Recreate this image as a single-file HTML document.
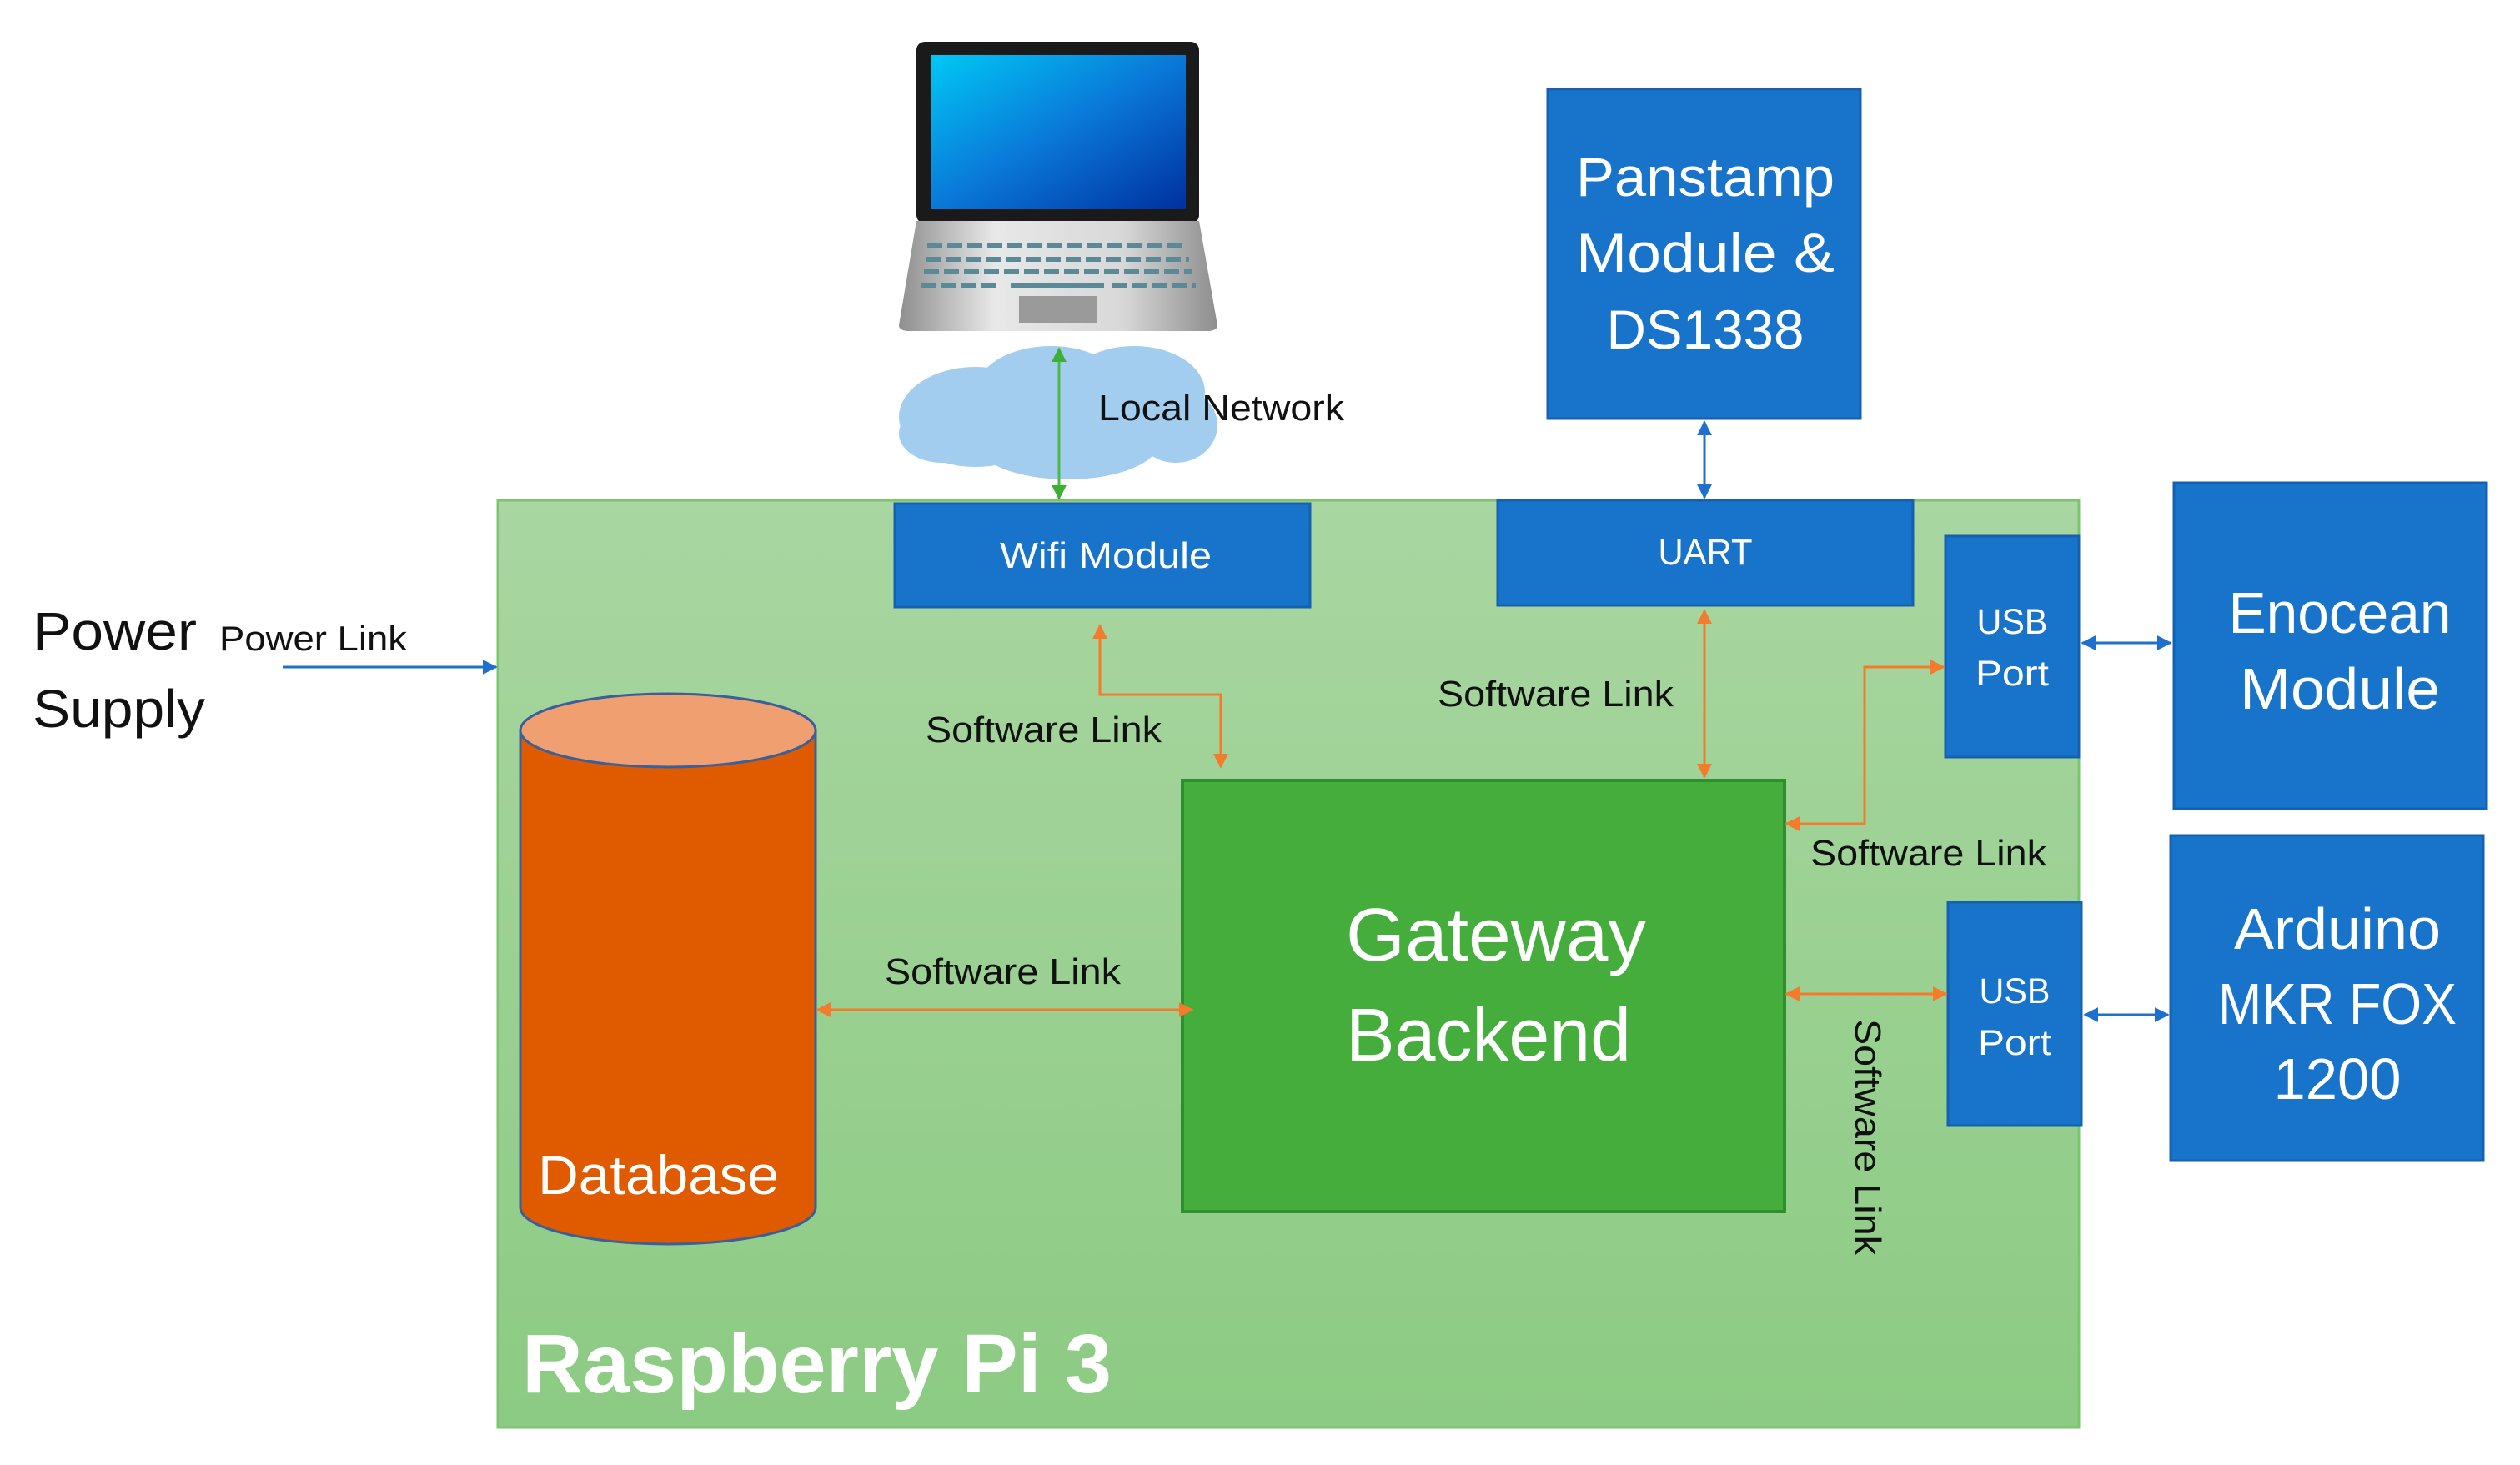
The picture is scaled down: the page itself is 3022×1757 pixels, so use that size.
<!DOCTYPE html>
<html><head><meta charset="utf-8"><style>
html,body{margin:0;padding:0;background:#fff;}
svg{display:block;}
text{font-family:"Liberation Sans",sans-serif;}
</style></head><body>
<svg width="3022" height="1757" viewBox="0 0 3022 1757" xmlns="http://www.w3.org/2000/svg">
<defs>
<linearGradient id="pi" x1="0" y1="0" x2="0" y2="1"><stop offset="0" stop-color="#a9d6a1"/><stop offset="1" stop-color="#8ccb83"/></linearGradient>
<linearGradient id="scr" x1="0" y1="0" x2="1" y2="1"><stop offset="0" stop-color="#00c8f4"/><stop offset="0.5" stop-color="#0a78d8"/><stop offset="1" stop-color="#0030a0"/></linearGradient>
<linearGradient id="base" x1="0" y1="0" x2="1" y2="0"><stop offset="0" stop-color="#8e8e8e"/><stop offset="0.3" stop-color="#e8e8e8"/><stop offset="0.7" stop-color="#d8d8d8"/><stop offset="1" stop-color="#8e8e8e"/></linearGradient>
<marker id="oa" viewBox="0 0 10 10" refX="9" refY="5" markerWidth="6" markerHeight="6" orient="auto-start-reverse"><path d="M0,0L10,5L0,10z" fill="#f47a2c"/></marker>
<marker id="ba" viewBox="0 0 10 10" refX="9" refY="5" markerWidth="6" markerHeight="6" orient="auto-start-reverse"><path d="M0,0L10,5L0,10z" fill="#1f6fd0"/></marker>
<marker id="ga" viewBox="0 0 10 10" refX="9" refY="5" markerWidth="6" markerHeight="6" orient="auto-start-reverse"><path d="M0,0L10,5L0,10z" fill="#3cb034"/></marker>
</defs>

<rect x="597" y="600" width="1896" height="1112" fill="url(#pi)" stroke="#7cc470" stroke-width="3"/>
<text x="626" y="1670" font-size="100" font-weight="bold" fill="#fff" textLength="707" lengthAdjust="spacingAndGlyphs">Raspberry Pi 3</text>

<rect x="1099" y="50" width="339" height="218" rx="10" fill="#1a1a1a"/>
<rect x="1117" y="66" width="305" height="185" fill="url(#scr)"/>
<path d="M1099,265 L1438,265 L1460,390 Q1460,396 1450,397 L1088,397 Q1078,396 1078,390 Z" fill="url(#base)"/>
<g stroke="#5b8a96" stroke-width="6" stroke-dasharray="18,6">
<line x1="1112" y1="295" x2="1424" y2="295"/><line x1="1110" y1="311" x2="1426" y2="311"/><line x1="1108" y1="326" x2="1430" y2="326"/>
</g>
<g stroke="#5b8a96" stroke-width="6">
<line x1="1104" y1="342" x2="1200" y2="342" stroke-dasharray="18,6"/><line x1="1212" y1="342" x2="1324" y2="342"/><line x1="1334" y1="342" x2="1434" y2="342" stroke-dasharray="18,6"/>
</g>
<rect x="1222" y="355" width="94" height="32" fill="#9a9a9a"/>

<g fill="#a3cdef">
<ellipse cx="1170" cy="500" rx="92" ry="60"/><ellipse cx="1260" cy="470" rx="90" ry="55"/><ellipse cx="1360" cy="470" rx="85" ry="55"/>
<ellipse cx="1410" cy="510" rx="50" ry="45"/><ellipse cx="1280" cy="530" rx="110" ry="45"/><ellipse cx="1130" cy="520" rx="52" ry="35"/>
</g>
<line x1="1270" y1="418" x2="1270" y2="598" stroke="#4cb848" stroke-width="3" marker-start="url(#ga)" marker-end="url(#ga)"/>
<text x="1317" y="504" font-size="44" fill="#111" textLength="295" lengthAdjust="spacingAndGlyphs">Local Network</text>

<text x="39" y="779" font-size="64" fill="#111" textLength="197" lengthAdjust="spacingAndGlyphs">Power</text>
<text x="39" y="872" font-size="64" fill="#111" textLength="207" lengthAdjust="spacingAndGlyphs">Supply</text>
<text x="263" y="780" font-size="42" fill="#111" textLength="225" lengthAdjust="spacingAndGlyphs">Power Link</text>
<line x1="339" y1="800" x2="595" y2="800" stroke="#1f6fd0" stroke-width="3" marker-end="url(#ba)"/>

<g fill="#1873cb" stroke="#1560b0" stroke-width="3">
<rect x="1073" y="604" width="498" height="124"/>
<rect x="1796" y="600" width="498" height="126"/>
<rect x="1856" y="107" width="375" height="395"/>
<rect x="2333" y="643" width="160" height="265"/>
<rect x="2336" y="1082" width="160" height="268"/>
<rect x="2607" y="579" width="375" height="391"/>
<rect x="2603" y="1002" width="375" height="390"/>
</g>
<g fill="#fff" text-anchor="middle">
<text x="1326" y="681" font-size="44" textLength="254" lengthAdjust="spacingAndGlyphs">Wifi Module</text>
<text x="2045" y="677" font-size="44" textLength="113" lengthAdjust="spacingAndGlyphs">UART</text>
<text x="2045" y="235" font-size="66" textLength="310" lengthAdjust="spacingAndGlyphs">Panstamp</text>
<text x="2045" y="326" font-size="66" textLength="310" lengthAdjust="spacingAndGlyphs">Module &amp;</text>
<text x="2045" y="418" font-size="66" textLength="237" lengthAdjust="spacingAndGlyphs">DS1338</text>
<text x="2413" y="760" font-size="43" textLength="85" lengthAdjust="spacingAndGlyphs">USB</text>
<text x="2413" y="822" font-size="43" textLength="88" lengthAdjust="spacingAndGlyphs">Port</text>
<text x="2416" y="1203" font-size="43" textLength="85" lengthAdjust="spacingAndGlyphs">USB</text>
<text x="2416" y="1265" font-size="43" textLength="88" lengthAdjust="spacingAndGlyphs">Port</text>
<text x="2806" y="759" font-size="70" textLength="267" lengthAdjust="spacingAndGlyphs">Enocean</text>
<text x="2806" y="850" font-size="70" textLength="240" lengthAdjust="spacingAndGlyphs">Module</text>
<text x="2803" y="1138" font-size="70" textLength="248" lengthAdjust="spacingAndGlyphs">Arduino</text>
<text x="2803" y="1228" font-size="70" textLength="286" lengthAdjust="spacingAndGlyphs">MKR FOX</text>
<text x="2803" y="1318" font-size="70" textLength="153" lengthAdjust="spacingAndGlyphs">1200</text>
</g>

<line x1="2044" y1="506" x2="2044" y2="597" stroke="#1f6fd0" stroke-width="3" marker-start="url(#ba)" marker-end="url(#ba)"/>
<line x1="2497" y1="771" x2="2603" y2="771" stroke="#1f6fd0" stroke-width="3" marker-start="url(#ba)" marker-end="url(#ba)"/>
<line x1="2500" y1="1217" x2="2600" y2="1217" stroke="#1f6fd0" stroke-width="3" marker-start="url(#ba)" marker-end="url(#ba)"/>

<rect x="1418" y="936" width="722" height="517" fill="#44ad3c" stroke="#2f8f2f" stroke-width="4"/>
<text x="1794" y="1152" font-size="90" fill="#fff" text-anchor="middle" textLength="360" lengthAdjust="spacingAndGlyphs">Gateway</text>
<text x="1785" y="1272" font-size="90" fill="#fff" text-anchor="middle" textLength="342" lengthAdjust="spacingAndGlyphs">Backend</text>

<path d="M624,876 L624,1448 A177,44 0 0 0 978,1448 L978,876 Z" fill="#e05a00" stroke="#3a5f9a" stroke-width="3"/>
<ellipse cx="801" cy="876" rx="177" ry="44" fill="#f0a070" stroke="#3a5f9a" stroke-width="3"/>
<text x="645" y="1432" font-size="66" fill="#fff" textLength="289" lengthAdjust="spacingAndGlyphs">Database</text>

<g fill="none" stroke="#f47a2c" stroke-width="3">
<polyline points="1319,750 1319,833 1464,833 1464,920" marker-start="url(#oa)" marker-end="url(#oa)"/>
<line x1="2044" y1="732" x2="2044" y2="932" marker-start="url(#oa)" marker-end="url(#oa)"/>
<line x1="980" y1="1211" x2="1430" y2="1211" marker-start="url(#oa)" marker-end="url(#oa)"/>
<polyline points="2142,988 2236,988 2236,800 2331,800" marker-start="url(#oa)" marker-end="url(#oa)"/>
<line x1="2142" y1="1192" x2="2334" y2="1192" marker-start="url(#oa)" marker-end="url(#oa)"/>
</g>
<g fill="#111" font-size="44">
<text x="1110" y="890" textLength="283" lengthAdjust="spacingAndGlyphs">Software Link</text>
<text x="1724" y="847" textLength="283" lengthAdjust="spacingAndGlyphs">Software Link</text>
<text x="1061" y="1180" textLength="283" lengthAdjust="spacingAndGlyphs">Software Link</text>
<text x="2171" y="1038" textLength="283" lengthAdjust="spacingAndGlyphs">Software Link</text>
<text transform="translate(2225,1222) rotate(90)" x="0" y="0" textLength="283" lengthAdjust="spacingAndGlyphs">Software Link</text>
</g>
</svg>
</body></html>
